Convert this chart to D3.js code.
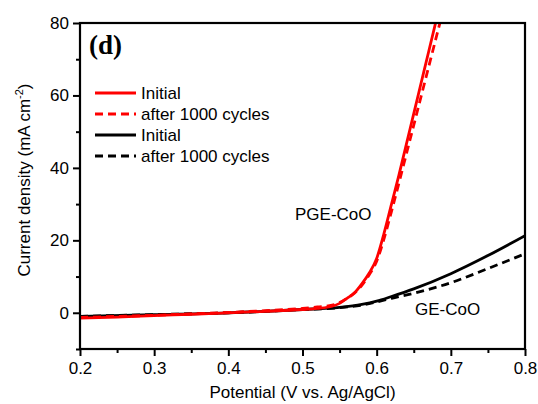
<!DOCTYPE html>
<html>
<head>
<meta charset="utf-8">
<script src="https://cdn.jsdelivr.net/npm/d3@7"></script>
<style>
  body { margin: 0; background: #fff; }
  svg { display: block; font-family: "Liberation Sans", Arial, sans-serif; }
</style>
</head>
<body>
<svg width="538" height="404"></svg>
<script>
// potential (V vs Ag/AgCl) and current density (mA cm-2)
const pgeInitV = [0.20, 0.25, 0.30, 0.35, 0.40, 0.45, 0.50, 0.52, 0.54, 0.55, 0.56, 0.57, 0.58, 0.59, 0.60, 0.61, 0.62, 0.63, 0.64, 0.65, 0.66, 0.67, 0.68, 0.69]
const pgeInitJ = [-1.5, -1.2, -0.8, -0.4, 0.0, 0.4, 0.9, 1.2, 1.8, 2.6, 4.0, 5.5, 8.0, 11.0, 15.0, 22.0, 30.0, 38.0, 46.5, 55.0, 63.5, 72.0, 80.5, 89.0]

const pgeCycV = [0.20, 0.25, 0.30, 0.35, 0.40, 0.45, 0.50, 0.52, 0.54, 0.55, 0.56, 0.57, 0.58, 0.59, 0.60, 0.61, 0.62, 0.63, 0.64, 0.65, 0.66, 0.67, 0.68, 0.69]
const pgeCycJ = [-1.3, -1.0, -0.7, -0.3, 0.1, 0.6, 1.2, 1.6, 2.1, 2.8, 4.0, 5.4, 7.6, 10.5, 14.2, 20.5, 28.0, 35.8, 43.8, 51.8, 59.8, 67.8, 75.8, 83.8]

const geInitV = [0.20, 0.30, 0.40, 0.50, 0.55, 0.58, 0.60, 0.62, 0.65, 0.70, 0.75, 0.80]
const geInitJ = [-1.0, -0.5, 0.0, 0.9, 1.5, 2.3, 3.2, 4.5, 6.6, 10.8, 15.8, 21.3]

const geCycV = [0.20, 0.30, 0.40, 0.50, 0.55, 0.58, 0.60, 0.62, 0.65, 0.70, 0.75, 0.80]
const geCycJ = [-1.0, -0.5, 0.0, 0.9, 1.4, 2.1, 3.0, 4.0, 5.4, 8.3, 12.2, 16.3]

const xTicks = [0.2, 0.3, 0.4, 0.5, 0.6, 0.7, 0.8]
const xMinor = [0.25, 0.35, 0.45, 0.55, 0.65, 0.75]
const yTicks = [0, 20, 40, 60, 80]
const yMinor = [-10, 10, 30, 50, 70]

const legendLabels = ['Initial', 'after 1000 cycles', 'Initial', 'after 1000 cycles']

const series = [
  {v: pgeInitV, j: pgeInitJ, color: '#ff0000', dash: null},
  {v: pgeCycV, j: pgeCycJ, color: '#ff0000', dash: '8,5'},
  {v: geInitV, j: geInitJ, color: '#000000', dash: null},
  {v: geCycV, j: geCycJ, color: '#000000', dash: '8,5'}
]

const svg = d3.select('svg')
const pLeft = 80, pRight = 525, pTop = 23, pBottom = 349

const x = d3.scaleLinear().domain([0.2, 0.8]).range([pLeft, pRight])
const y = d3.scaleLinear().domain([-10, 80]).range([pBottom, pTop])

svg.append('clipPath').attr('id', 'plot')
  .append('rect')
  .attr('x', pLeft).attr('y', pTop)
  .attr('width', pRight - pLeft).attr('height', pBottom - pTop)

const line = d3.line()
  .x(d => x(d[0]))
  .y(d => y(d[1]))
  .curve(d3.curveMonotoneX)

// curves, black under red like the picture
const order = [2, 3, 1, 0]
order.forEach(function(i){
  let s = series[i]
  svg.append('path')
    .datum(s.v.map((v, k) => [v, s.j[k]]))
    .attr('clip-path', 'url(#plot)')
    .attr('d', line)
    .attr('fill', 'none')
    .attr('stroke', s.color)
    .attr('stroke-width', 2.8)
    .attr('stroke-dasharray', s.dash)
})

// axes
const fs = '17px'
const xAxis = svg.append('g')
  .attr('transform', `translate(0,${pBottom})`)
  .call(d3.axisBottom(x).tickValues(xTicks).tickFormat(d3.format('.1f')).tickSize(7).tickPadding(6))
xAxis.selectAll('text').style('font-size', fs).attr('fill', '#000')
svg.append('g')
  .attr('transform', `translate(0,${pBottom})`)
  .call(d3.axisBottom(x).tickValues(xMinor).tickFormat('').tickSize(4))

const yAxis = svg.append('g')
  .attr('transform', `translate(${pLeft},0)`)
  .call(d3.axisLeft(y).tickValues(yTicks).tickSize(7).tickPadding(4))
yAxis.selectAll('text').style('font-size', fs).attr('fill', '#000')
svg.append('g')
  .attr('transform', `translate(${pLeft},0)`)
  .call(d3.axisLeft(y).tickValues(yMinor).tickFormat('').tickSize(4))

svg.selectAll('.domain').remove()
svg.selectAll('.tick line').attr('stroke', '#000').attr('stroke-width', 2)

// frame
svg.append('rect')
  .attr('x', pLeft).attr('y', pTop)
  .attr('width', pRight - pLeft).attr('height', pBottom - pTop)
  .attr('fill', 'none').attr('stroke', '#000').attr('stroke-width', 2.2)

// titles
svg.append('text')
  .attr('x', (pLeft + pRight) / 2).attr('y', 398)
  .attr('text-anchor', 'middle')
  .style('font-size', fs)
  .text('Potential (V vs. Ag/AgCl)')

const yt = svg.append('text')
  .attr('transform', 'translate(30,180) rotate(-90)')
  .attr('text-anchor', 'middle')
  .style('font-size', fs)
yt.append('tspan').text('Current density (mA cm')
yt.append('tspan').attr('dy', -7).style('font-size', '11px').text('-2')
yt.append('tspan').attr('dy', 7).text(')')

svg.append('text')
  .attr('x', 89).attr('y', 54)
  .style('font-family', '"Liberation Serif", "Times New Roman", serif')
  .style('font-weight', 'bold')
  .style('font-size', '27px')
  .text('(d)')

svg.append('text').attr('x', 295).attr('y', 220).style('font-size', fs).text('PGE-CoO')
svg.append('text').attr('x', 415).attr('y', 315).style('font-size', fs).text('GE-CoO')

// legend
const rowY = [93, 114, 135, 156]
legendLabels.forEach(function(lab, i){
  let s = series[i]
  svg.append('line')
    .attr('x1', 95).attr('x2', 136)
    .attr('y1', rowY[i]).attr('y2', rowY[i])
    .attr('stroke', s.color)
    .attr('stroke-width', 2.8)
    .attr('stroke-dasharray', s.dash)
  svg.append('text')
    .attr('x', 141).attr('y', rowY[i] + 6)
    .style('font-size', fs)
    .text(lab)
})
</script>
</body>
</html>
